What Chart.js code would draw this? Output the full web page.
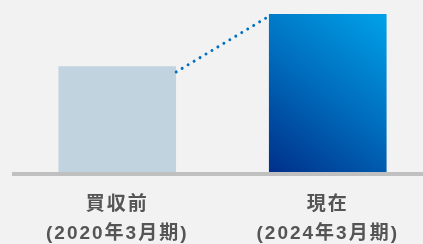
<!DOCTYPE html>
<html>
<head>
<meta charset="utf-8">
<script src="https://cdn.jsdelivr.net/npm/chart.js@4/dist/chart.umd.min.js"></script>
<style>
    html, body { margin: 0; padding: 0; background: #f2f2f2; overflow: hidden; }
    #wrap { width: 433px; height: 244px; }
</style>
</head>
<body>
<div id="wrap"><canvas id="compare"></canvas></div>
<script>
// categories (two-line tick labels)
const periods = [['買収前', '(2020年3月期)'], ['現在', '(2024年3月期)']];
// bar values (relative size)
const values = [100, 150];
// dotted connector between bar tops, on a hidden linear x axis
const connectorX = [0.28, 0.705];
const connectorY = [95, 146];

const compare = document.getElementById('compare');

// grey base line under the bars
const baseLine = {
    id: 'baseLine',
    beforeDatasetsDraw(chart) {
        const { ctx, chartArea } = chart;
        ctx.save();
        ctx.fillStyle = '#c0c0c0';
        ctx.fillRect(chartArea.left, chartArea.bottom, chartArea.right - chartArea.left, 4);
        ctx.restore();
    }
};

// the labels in the original are set wide
const wideText = {
    id: 'wideText',
    beforeLayout(chart) { chart.ctx.letterSpacing = '2px'; },
    beforeDraw(chart) { chart.ctx.letterSpacing = '2px'; }
};

const barColor = (ctx) => {
    if (ctx.dataIndex === 0) return '#c1d3df';
    const chart = ctx.chart;
    if (!chart.chartArea) return '#0068b7';
    const { x, y } = chart.scales;
    const cx = x.getPixelForValue(ctx.dataIndex);
    const g = chart.ctx.createLinearGradient(cx - 58.5, y.getPixelForValue(0), cx + 58.5, y.getPixelForValue(values[ctx.dataIndex]));
    g.addColorStop(0, '#00308a');
    g.addColorStop(0.5, '#006cbc');
    g.addColorStop(1, '#00a2e9');
    return g;
};

new Chart(compare, {
    type: 'bar',
    data: {
        labels: periods,
        datasets: [{
            label: 'value',
            data: values,
            backgroundColor: barColor,
            borderWidth: 0,
            barThickness: 117,
            grouped: false,
            xAxisID: 'x',
            order: 2
        }, {
            type: 'line',
            label: 'connector',
            data: connectorX.map((v, i) => ({ x: v, y: connectorY[i] })),
            xAxisID: 'x2',
            borderColor: '#0070c0',
            borderWidth: 3,
            borderCapStyle: 'round',
            borderDash: [0.001, 6.95],
            pointRadius: 0,
            fill: false,
            order: 1
        }]
    },
    options: {
        responsive: true,
        maintainAspectRatio: false,
        animation: false,
        layout: { padding: { left: 12, top: 14, right: 0, bottom: 0 } },
        plugins: {
            legend: { display: false },
            tooltip: { enabled: false }
        },
        scales: {
            x: {
                type: 'category',
                grid: { display: false, drawTicks: false },
                border: { display: false },
                ticks: {
                    padding: 19,
                    color: '#555555',
                    font: { family: '"Liberation Sans", "Noto Sans CJK JP", sans-serif', size: 19, weight: 'bold', lineHeight: 1.5 }
                },
                afterFit: (scale) => { scale.height = 72; }
            },
            x2: {
                type: 'linear',
                display: false,
                offset: false,
                min: -0.5,
                max: 1.5
            },
            y: {
                display: false,
                min: 0,
                max: 150
            }
        }
    },
    plugins: [baseLine, wideText]
});
</script>
</body>
</html>
